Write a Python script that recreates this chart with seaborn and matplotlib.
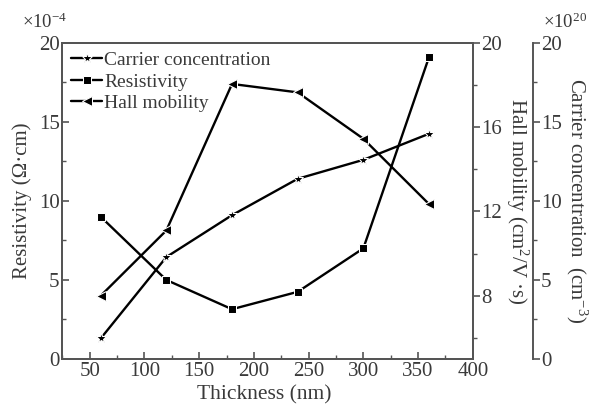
import matplotlib
matplotlib.use("Agg")
import matplotlib.pyplot as plt
import seaborn as sns
import pandas as pd
from matplotlib.ticker import MultipleLocator, FixedLocator

# ---- data ----
thickness = [60, 120, 180, 240, 300, 360]
resistivity = [9.0, 5.0, 3.15, 4.25, 7.0, 19.1]          # x1e-4 Ohm cm
hall_mobility = [8.0, 11.1, 18.05, 17.65, 15.45, 12.35]   # cm2/V s
carrier_conc = [1.3, 6.45, 9.1, 11.4, 12.6, 14.25]        # x1e20 cm-3

df = pd.DataFrame({"thickness": thickness, "resistivity": resistivity,
                   "hall": hall_mobility, "carrier": carrier_conc})

sns.set_theme(style="ticks")
plt.rcParams["font.family"] = ["Liberation Serif", "DejaVu Serif"]
plt.rcParams["mathtext.fontset"] = "custom"
plt.rcParams["mathtext.rm"] = "Liberation Serif"
plt.rcParams["mathtext.it"] = "Liberation Serif:italic"

txt = "#3a3a3a"
spc = "#555555"

fig = plt.figure(figsize=(6.0, 4.16), dpi=100)
ax = fig.add_axes([0.104, 0.137, 0.684, 0.760])
ax2 = ax.twinx()
ax3 = ax.twinx()
ax3.spines["right"].set_position(("axes", 1.146))
for s in ["top", "left", "bottom"]:
    ax3.spines[s].set_visible(False)

lw = 1.7
sns.lineplot(data=df, x="thickness", y="carrier", ax=ax3, color="black",
             marker="*", markersize=8, linewidth=lw, label="Carrier concentration",
             legend=False)
sns.lineplot(data=df, x="thickness", y="resistivity", ax=ax, color="black",
             marker="s", markersize=6, linewidth=lw, label="Resistivity",
             legend=False)
sns.lineplot(data=df, x="thickness", y="hall", ax=ax2, color="black",
             marker="<", markersize=7, linewidth=lw, label="Hall mobility",
             legend=False)

ax.set_xlim(25, 400)
ax.set_ylim(0, 20)
ax2.set_ylim(5, 20)
ax3.set_ylim(0, 20)

ax.set_xticks([50, 100, 150, 200, 250, 300, 350, 400])
ax.xaxis.set_minor_locator(MultipleLocator(25))
ax.yaxis.set_major_locator(MultipleLocator(5))
ax.yaxis.set_minor_locator(MultipleLocator(2.5))
ax2.yaxis.set_major_locator(FixedLocator([8, 12, 16, 20]))
ax2.yaxis.set_minor_locator(FixedLocator([6, 10, 14, 18]))
ax3.yaxis.set_major_locator(MultipleLocator(5))
ax3.yaxis.set_minor_locator(MultipleLocator(2.5))

fs_tick = 15
for a in (ax, ax2, ax3):
    for sp in a.spines.values():
        sp.set_color(spc)
        sp.set_linewidth(1.4)
ax.tick_params(axis="both", which="major", direction="in", length=5, width=1.2,
               color=spc, labelsize=fs_tick, labelcolor=txt, pad=2)
ax.tick_params(axis="both", which="minor", direction="in", length=3, width=1.0,
               color=spc)
ax.tick_params(axis="y", which="both", right=False)
ax.tick_params(axis="x", which="both", top=False)
for a in (ax2, ax3):
    a.tick_params(axis="y", which="major", direction="out", length=5, width=1.2,
                  color=spc, labelsize=fs_tick, labelcolor=txt, pad=1)
    a.tick_params(axis="y", which="minor", direction="out", length=3, width=1.0,
                  color=spc)

ax.set_xlabel("Thickness (nm)", fontsize=15.5, color=txt)
ax.set_ylabel("Resistivity (\u03a9\u00b7cm)", fontsize=15, color=txt)
ax2.set_ylabel("Hall mobility (cm$^{2}$/V \u00b7s)", fontsize=15, color=txt,
               rotation=270)
ax3.set_ylabel("Carrier concentration  (cm$^{-3}$)", fontsize=15, color=txt,
               rotation=270)
for a, xc in ((ax, -0.098), (ax2, 1.107), (ax3, 1.253)):
    lab = a.yaxis.label
    lab.set_rotation_mode("anchor")
    lab.set_va("center")
    lab.set_ha("center")
    a.yaxis.set_label_coords(xc, 0.5)
ax.xaxis.label.set_va("center")
ax.xaxis.set_label_coords(0.493, -0.114)

fig.text(0.036, 0.947, "\u00d710$^{-4}$", fontsize=13.5, color=txt, va="center")
fig.text(0.905, 0.947, "\u00d710$^{20}$", fontsize=13.5, color=txt, va="center")

handles = []
for a in (ax3, ax, ax2):
    h, l = a.get_legend_handles_labels()
    handles += list(zip(h, l))
leg = ax.legend([h for h, _ in handles], [l for _, l in handles], loc="upper left",
                frameon=False, fontsize=14, handlelength=1.6, handletextpad=0.1,
                borderaxespad=0.25, labelspacing=0.2, borderpad=0.2)
for t in leg.get_texts():
    t.set_color(txt)

fig.savefig("out.png", dpi=100)
